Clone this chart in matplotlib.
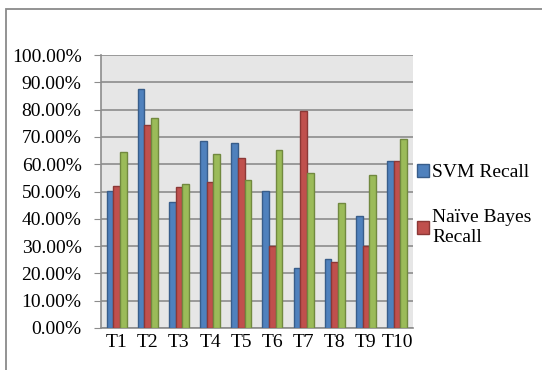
import matplotlib
matplotlib.use("Agg")
import matplotlib.pyplot as plt
from matplotlib.patches import Rectangle, Patch
from matplotlib.ticker import PercentFormatter
import numpy as np

categories = ["T1", "T2", "T3", "T4", "T5", "T6", "T7", "T8", "T9", "T10"]
svm_recall = [50.2, 87.7, 46.3, 68.4, 67.6, 50.2, 21.8, 25.1, 40.9, 61.3]
nb_recall = [52.1, 74.4, 51.8, 53.4, 62.4, 30.2, 79.6, 24.0, 29.9, 61.3]
third_recall = [64.6, 76.8, 52.8, 63.8, 54.3, 65.1, 56.6, 45.7, 56.2, 69.1]
series_names = ["SVM Recall", "Naïve Bayes\nRecall"]

plt.rcParams["font.family"] = ["Liberation Serif", "DejaVu Serif"]

fig = plt.figure(figsize=(5.42, 3.70), dpi=100)
fig.patch.set_facecolor("white")

# outer chart frame (left and top edges visible)
fig.add_artist(Rectangle((6 / 542, -0.2), 1.2, 1 - 9 / 370 + 0.2,
                         transform=fig.transFigure, fill=False,
                         edgecolor="#8a8a8a", linewidth=1.3))

ax = fig.add_axes([101 / 542, 42 / 370, 311.7 / 542, 273 / 370])
ax.set_facecolor("#e6e6e6")

x = np.arange(len(categories))
w = 0.215
styles = [("#4f81bd", "#385d8a"), ("#c0504d", "#8c3836"), ("#9bbb59", "#71893f")]
for i, (vals, (fc, ec)) in enumerate(zip([svm_recall, nb_recall, third_recall], styles)):
    ax.bar(x + (i - 1) * w, vals, width=w, color=fc, edgecolor=ec,
           linewidth=1.0, zorder=3)

ax.set_xlim(-0.5, len(categories) - 0.5)
ax.set_ylim(0, 100)
ax.set_yticks(np.arange(0, 101, 10))
ax.yaxis.set_major_formatter(PercentFormatter(decimals=2))
ax.grid(axis="y", color="#8c8c8c", linewidth=1.2, zorder=1)
ax.set_xticks(x)
ax.set_xticklabels(categories)
ax.tick_params(axis="x", length=0, labelsize=14, pad=4)
ax.tick_params(axis="y", length=5, color="#8c8c8c", labelsize=14, pad=9)

for side in ["top", "right"]:
    ax.spines[side].set_visible(False)
for side in ["left", "bottom"]:
    ax.spines[side].set_color("#8c8c8c")
    ax.spines[side].set_linewidth(1.2)

handles = [Patch(facecolor=styles[0][0], edgecolor=styles[0][1]),
           Patch(facecolor=styles[1][0], edgecolor=styles[1][1])]
fig.legend(handles, series_names, loc="upper left",
           bbox_to_anchor=(407 / 542, 1 - 154 / 370), frameon=False,
           fontsize=14, handlelength=0.65, handleheight=0.65,
           handletextpad=0.15, labelspacing=1.45, borderpad=0)

fig.savefig("out.png", dpi=100)
